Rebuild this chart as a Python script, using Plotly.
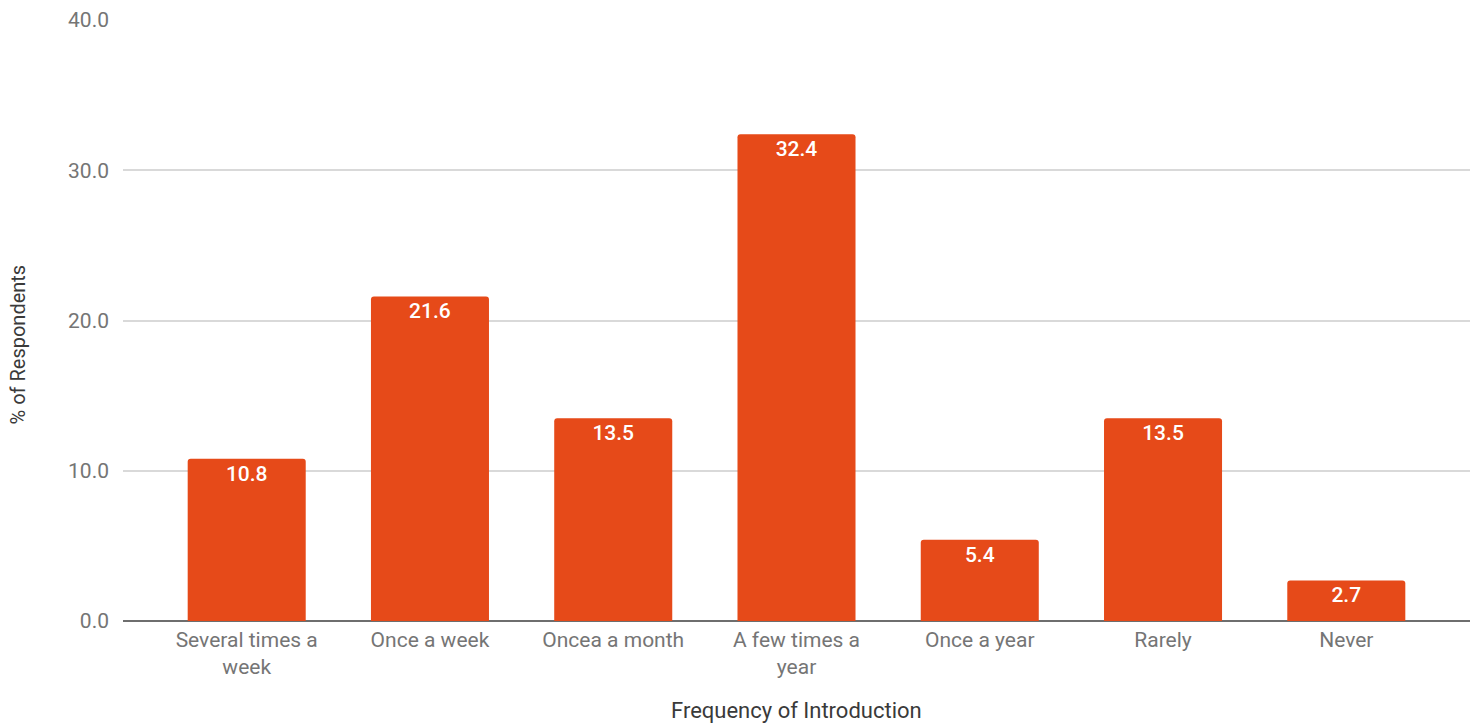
import plotly.graph_objects as go

categories = ["Several times a<br>week", "Once a week", "Oncea a month", "A few times a<br>year",
              "Once a year", "Rarely", "Never"]
values = [10.8, 21.6, 13.5, 32.4, 5.4, 13.5, 2.7]
y_ticks = [0, 10, 20, 30, 40]
y_tick_labels = ["0.0", "10.0", "20.0", "30.0", "40.0"]

fig = go.Figure(go.Bar(
    x=list(range(len(categories))),
    y=values,
    marker=dict(color="#E64A19", cornerradius=3, line=dict(width=0)),
    text=[f"{v:.1f}" for v in values],
    textposition="inside",
    insidetextanchor="end",
    textangle=0,
    textfont=dict(family="Roboto", size=21, color="white", weight=500),
    cliponaxis=False,
    hoverinfo="skip",
))

fig.update_layout(
    width=1478, height=727,
    margin=dict(l=123, r=8, t=17, b=106),
    paper_bgcolor="white", plot_bgcolor="white",
    bargap=0.356,
    showlegend=False,
    font=dict(family="Roboto", size=21, color="#757575"),
)
fig.update_xaxes(
    tickmode="array", tickvals=list(range(len(categories))), ticktext=categories,
    range=[-0.675, 6.675],
    showgrid=False, zeroline=False,
    showline=False,
    ticks="", tickfont=dict(family="Roboto", size=21, color="#757575"),
    ticklabelstandoff=4,
)
fig.update_yaxes(
    range=[0, 40], tickmode="array", tickvals=y_ticks, ticktext=y_tick_labels,
    showgrid=True, gridcolor="#D9D9D9", gridwidth=1.5,
    zeroline=True, zerolinecolor="#6E6E6E", zerolinewidth=2,
    ticks="", tickfont=dict(family="Roboto", size=21, color="#757575"),
    ticklabelstandoff=13,
)
fig.add_annotation(
    text="% of Respondents", textangle=-90, xref="paper", yref="paper",
    x=-0.078, y=0.46, xanchor="center", yanchor="middle", showarrow=False,
    font=dict(family="Roboto", size=20, color="#3a3a3a"),
)
fig.add_annotation(
    text="Frequency of Introduction", xref="paper", yref="paper",
    x=0.5, y=-0.125, xanchor="center", yanchor="top", showarrow=False,
    font=dict(family="Roboto", size=22, color="#3a3a3a"),
)
fig.write_html("out.html")
